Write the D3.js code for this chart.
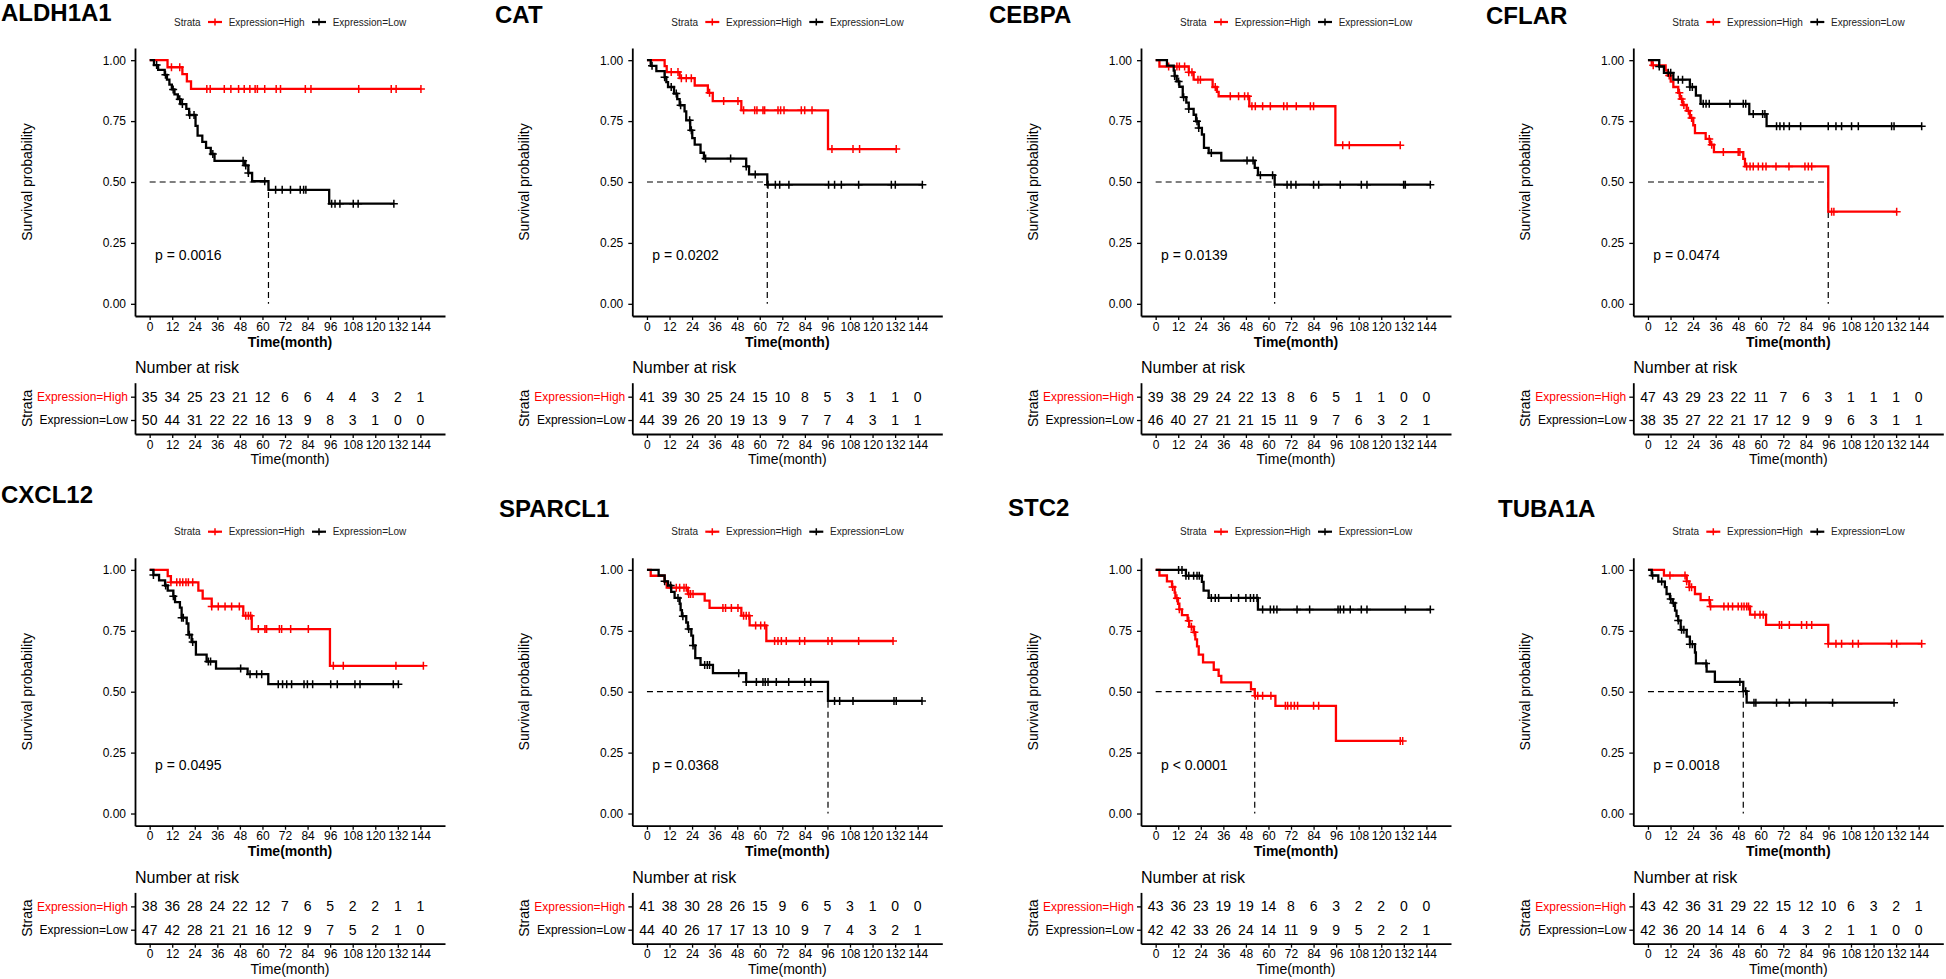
<!DOCTYPE html>
<html><head><meta charset="utf-8">
<script src="https://cdn.jsdelivr.net/npm/d3@7"></script>
<style>
body{margin:0;background:#fff;}
svg{display:block;font-family:Arial,"Liberation Sans",Helvetica,sans-serif;}
</style></head><body>
<svg id="chart" width="1946" height="979"></svg>
<script>
// ---------------- DATA ----------------
const genes = ["ALDH1A1","CAT","CEBPA","CFLAR","CXCL12","SPARCL1","STC2","TUBA1A"];
const strata = ["Expression=High","Expression=Low"];
const riskTimes = [0,12,24,36,48,60,72,84,96,108,120,132,144];
const yTickValues = [0,0.25,0.5,0.75,1];
const pValues = ["p = 0.0016","p = 0.0202","p = 0.0139","p = 0.0474","p = 0.0495","p = 0.0368","p < 0.0001","p = 0.0018"];
const medianTimes = [63.2,64,63.3,95.9,null,96.3,52.7,50.7];

// step curves: [time, survival after step]; censor times
const ALDH1A1_high = [[0,1],[9.5,0.971],[17.4,0.943],[19.8,0.913],[22,0.882]];
const ALDH1A1_high_cens = [11.6,16,30.4,32.2,39.7,43.2,47.3,50.3,53.3,56.1,57.3,61.2,67.3,69.6,82.8,85.8,111.2,128.5,131.1,144.3];
const ALDH1A1_low = [[0,1],[2.3,0.98],[4.5,0.96],[8,0.94],[9.2,0.92],[10.5,0.9],[11.8,0.88],[13.2,0.86],[15,0.84],[16.5,0.82],[19.5,0.8],[21,0.775],[24.4,0.73],[25.5,0.69],[28,0.665],[30,0.64],[32.5,0.615],[34.5,0.587],[50.5,0.568],[52.5,0.537],[54.5,0.503],[63.2,0.468],[95.5,0.411]];
const ALDH1A1_low_cens = [3.7,8.4,12.5,16,17.4,21.3,23.6,33.6,49.7,51.1,52.5,61.2,67,70.5,74.9,80.1,81.9,83.1,96.8,98.6,101.2,108.3,110.9,129.9];

const CAT_high = [[0,1],[9.4,0.976],[10.5,0.951],[17.4,0.926],[25.4,0.896],[32.4,0.866],[35,0.832],[50.2,0.794],[96.3,0.635]];
const CAT_high_cens = [12.9,16.5,18.3,20.9,23.6,33.3,40.8,48.4,51.4,57.3,58.5,61.7,62.6,69.7,71.1,72.9,82.1,83.9,87.8,98.4,109.6,113.1,132.6];
const CAT_low = [[0,1],[2,0.977],[5,0.955],[9.4,0.93],[10.3,0.91],[11.2,0.89],[14.4,0.863],[16.1,0.84],[17.4,0.815],[20,0.79],[20.9,0.753],[23,0.712],[24.1,0.68],[25.4,0.653],[28.5,0.62],[30.3,0.596],[52.8,0.564],[54.3,0.531],[64,0.489]];
const CAT_low_cens = [2.7,9.4,12.9,15.6,17.9,22.7,23.6,31.2,44.5,52.8,57.6,64.4,68.3,70.6,75.5,96.6,99.8,103.4,112.6,130,132.1,146.5];

const CEBPA_high = [[0,1],[2,0.974],[17.6,0.95],[20.2,0.92],[30.3,0.89],[32.6,0.87],[33.5,0.852],[49.8,0.811],[95.6,0.651]];
const CEBPA_high_cens = [6.9,11.3,12.6,15.4,17.6,19.3,22.5,23.8,31.7,39.7,44.1,47.3,49.1,51.2,53,56.9,61,68.1,69.9,74.8,82.3,84,99.5,103,130.1];
const CEBPA_low = [[0,1],[6,0.978],[9.6,0.957],[10.1,0.935],[11.2,0.913],[12.6,0.891],[14.4,0.848],[16.3,0.826],[17.6,0.8],[20.2,0.776],[21.5,0.749],[22.9,0.722],[24.6,0.695],[25.7,0.64],[28.2,0.619],[34.9,0.588],[52.7,0.558],[54.4,0.528],[63.3,0.489]];
const CEBPA_low_cens = [10.1,12.2,14.9,17.6,22,22.9,29.6,48.6,51.8,55.7,62.2,69.9,72,74.6,84,86.7,98.2,109.4,112.4,131.9,132.8,146.1];

const CFLAR_high = [[0,1],[2,0.979],[9.4,0.958],[10.5,0.937],[12.1,0.912],[13.5,0.89],[16.1,0.866],[17,0.841],[18.4,0.816],[20.6,0.792],[22.3,0.763],[24.1,0.733],[25,0.701],[30.7,0.677],[33,0.653],[35.1,0.623],[50.7,0.595],[51.6,0.564],[95.9,0.378]];
const CFLAR_high_cens = [2.8,11.3,16.7,17.9,19.1,21.5,23.2,32.6,33.9,40.1,48,48.9,52.5,54.3,56,58.7,61,62.8,68.1,75,83.5,85.3,87.1,97.7,98.9,132.3];
const CFLAR_low = [[0,1],[6,0.974],[8.5,0.948],[13.5,0.92],[22.3,0.89],[25.5,0.855],[28,0.821],[53.9,0.779],[63.1,0.729]];
const CFLAR_low_cens = [6,10.8,12.1,16.1,18.4,22.3,23.6,29.4,30.9,32.6,43.6,50.7,52,56,61,62.2,68.4,70.2,72.3,75.2,81.2,95.9,100,103,108.3,111.9,129.6,130.9,145.6];

const CXCL12_high = [[0,1],[9.6,0.974],[11.3,0.949],[25.9,0.915],[28.2,0.882],[33,0.85],[49.8,0.812],[54.3,0.757],[95.9,0.606]];
const CXCL12_high_cens = [11.3,14.4,16.1,17.6,19.3,20.6,22.9,33,36.5,40.1,43.6,47.7,51.1,52.5,53.7,57.8,61.3,62.2,69,70.2,75,84.4,97.7,103,131,145.6];
const CXCL12_low = [[0,1],[2,0.979],[5,0.957],[8.2,0.936],[9.6,0.915],[12.6,0.892],[13.5,0.868],[16.1,0.845],[17,0.804],[19.7,0.78],[20.6,0.734],[22.3,0.704],[24.6,0.652],[30.3,0.624],[35.3,0.595],[52.1,0.572],[63.1,0.531]];
const CXCL12_low_cens = [2,8.5,12.6,17,17.9,21.1,22.9,31.2,32.4,48.4,53.4,56.9,59.6,68.4,70.7,72.9,75.5,82.1,83.9,86.7,96.3,99.8,109.2,111.9,129.6,132.3];

const SPARCL1_high = [[0,1],[2,0.976],[9.4,0.951],[10.5,0.927],[21.8,0.901],[30.7,0.874],[33.3,0.844],[50.2,0.812],[54.6,0.772],[63.5,0.708]];
const SPARCL1_high_cens = [12.9,15.6,17.4,19.7,20.9,22.2,23.2,24.5,40.4,41.8,44.9,48.4,51.4,52.8,54.3,57.8,60.5,62.6,67.9,69.7,71.5,74.1,81.2,83.9,96.3,98.4,112.6,130.9];
const SPARCL1_low = [[0,1],[6.2,0.977],[9.4,0.953],[11.2,0.936],[12.9,0.91],[14.7,0.885],[17.4,0.861],[17.9,0.835],[18.6,0.81],[20.9,0.784],[21.8,0.757],[23.6,0.73],[24.5,0.69],[25.7,0.638],[28.5,0.61],[35.1,0.576],[52.8,0.54],[96.3,0.462]];
const SPARCL1_low_cens = [9.4,12.6,16.5,19.1,22.2,24.5,30.7,32.1,33.3,48.8,52.8,58.2,61.7,62.9,64.4,68.8,75.4,83.9,87.1,99.8,102.5,109.6,131.4,132.6,146.3];

const STC2_high = [[0,1],[2,0.977],[6,0.953],[8.7,0.93],[10.1,0.907],[10.5,0.884],[11.9,0.861],[12.6,0.838],[14,0.814],[17,0.791],[17.8,0.767],[20.2,0.744],[21.1,0.715],[22,0.686],[22.9,0.652],[25.2,0.62],[30.9,0.59],[33.5,0.565],[34.9,0.538],[50.7,0.51],[52.7,0.483],[63.7,0.442],[95.9,0.298]];
const STC2_high_cens = [9,11.3,12.6,17.6,19,20.6,53,54.3,56.9,61.3,69,70.2,72,73.8,75.5,84,86.7,130.1,131.4];
const STC2_low = [[0,1],[16.1,0.976],[24.6,0.951],[25.5,0.915],[28.2,0.885],[54.4,0.837]];
const STC2_low_cens = [12.2,14,16.1,17.6,20.2,22,23.2,29.6,31.7,33.5,40.2,44.1,48,50.4,52.1,53.9,56.9,61,62.8,64.5,75.2,81.9,97,98.2,100,103.5,109.4,112.4,132.8,146.1];

const TUBA1A_high = [[0,1],[8.5,0.977],[20.6,0.953],[22,0.929],[25,0.901],[28,0.876],[33,0.85],[54.3,0.816],[62.8,0.774],[95.9,0.697]];
const TUBA1A_high_cens = [11.7,19.7,20.6,22,23.2,32.6,33.3,40.4,42.7,45,48,49.8,51.1,52.5,53.5,56.9,59.6,61.3,69.9,71.1,75.2,81.7,84.4,87.1,95.9,100,103,108.9,111.9,129.6,132.3,145.6];
const TUBA1A_low = [[0,1],[2,0.977],[5.5,0.952],[9,0.929],[9.9,0.901],[11.7,0.88],[13.1,0.864],[14.4,0.833],[15.2,0.81],[16.1,0.792],[17.4,0.754],[20.6,0.726],[22.3,0.695],[25,0.661],[25.5,0.616],[31.2,0.582],[35.6,0.54],[50.7,0.502],[52.5,0.455]];
const TUBA1A_low_cens = [2.5,7.3,12.1,13.5,16.1,17.9,19.1,22.3,23.6,30.9,48.9,52,56.4,57.4,68.4,75.2,84,98.2,130.9];

// numbers at risk at riskTimes
const ALDH1A1_risk_high = [35,34,25,23,21,12,6,6,4,4,3,2,1];
const ALDH1A1_risk_low  = [50,44,31,22,22,16,13,9,8,3,1,0,0];
const CAT_risk_high = [41,39,30,25,24,15,10,8,5,3,1,1,0];
const CAT_risk_low  = [44,39,26,20,19,13,9,7,7,4,3,1,1];
const CEBPA_risk_high = [39,38,29,24,22,13,8,6,5,1,1,0,0];
const CEBPA_risk_low  = [46,40,27,21,21,15,11,9,7,6,3,2,1];
const CFLAR_risk_high = [47,43,29,23,22,11,7,6,3,1,1,1,0];
const CFLAR_risk_low  = [38,35,27,22,21,17,12,9,9,6,3,1,1];
const CXCL12_risk_high = [38,36,28,24,22,12,7,6,5,2,2,1,1];
const CXCL12_risk_low  = [47,42,28,21,21,16,12,9,7,5,2,1,0];
const SPARCL1_risk_high = [41,38,30,28,26,15,9,6,5,3,1,0,0];
const SPARCL1_risk_low  = [44,40,26,17,17,13,10,9,7,4,3,2,1];
const STC2_risk_high = [43,36,23,19,19,14,8,6,3,2,2,0,0];
const STC2_risk_low  = [42,42,33,26,24,14,11,9,9,5,2,2,1];
const TUBA1A_risk_high = [43,42,36,31,29,22,15,12,10,6,3,2,1];
const TUBA1A_risk_low  = [42,36,20,14,14,6,4,3,2,1,1,0,0];

const curveData = [
  [ALDH1A1_high,ALDH1A1_high_cens,ALDH1A1_low,ALDH1A1_low_cens,ALDH1A1_risk_high,ALDH1A1_risk_low],
  [CAT_high,CAT_high_cens,CAT_low,CAT_low_cens,CAT_risk_high,CAT_risk_low],
  [CEBPA_high,CEBPA_high_cens,CEBPA_low,CEBPA_low_cens,CEBPA_risk_high,CEBPA_risk_low],
  [CFLAR_high,CFLAR_high_cens,CFLAR_low,CFLAR_low_cens,CFLAR_risk_high,CFLAR_risk_low],
  [CXCL12_high,CXCL12_high_cens,CXCL12_low,CXCL12_low_cens,CXCL12_risk_high,CXCL12_risk_low],
  [SPARCL1_high,SPARCL1_high_cens,SPARCL1_low,SPARCL1_low_cens,SPARCL1_risk_high,SPARCL1_risk_low],
  [STC2_high,STC2_high_cens,STC2_low,STC2_low_cens,STC2_risk_high,STC2_risk_low],
  [TUBA1A_high,TUBA1A_high_cens,TUBA1A_low,TUBA1A_low_cens,TUBA1A_risk_high,TUBA1A_risk_low]
];

// ---------------- LAYOUT ----------------
const colX = [135, 632.3, 1141, 1633.3];
const rowTop = [48, 557.7];
const titleX = [1, 495, 989, 1486, 1, 499, 1008, 1498];
const titleY = [20.7, 22.5, 23.3, 24.3, 502.5, 516.5, 516, 517.3];
const W = 310, H = 268;
const colors = ["#FF0000", "#000000"];

const x = d3.scaleLinear().domain([-7.8, 157.1]).range([0, W]);
const y = d3.scaleLinear().domain([-0.05, 1.05]).range([H, 0]);
const svg = d3.select("#chart");

function survAt(steps, t){
  let s = steps[0][1];
  for (const st of steps){ if (st[0] <= t) s = st[1]; }
  return s;
}
function styleAxis(g, fs){
  g.select(".domain").attr("stroke","#000").attr("stroke-width",1.8);
  g.selectAll(".tick line").attr("stroke","#000").attr("stroke-width",1.3);
  g.selectAll(".tick text").attr("fill","#000").attr("font-size",fs).attr("font-family",null);
  g.attr("font-family",null);
}
const plus = (px,py,r) => `M${px-r},${py}h${2*r}M${px},${py-r}v${2*r}`;

genes.forEach((gene, i) => {
  const col = i % 4, row = Math.floor(i / 4);
  const ox = colX[col], oy = rowTop[row];
  const [hS, hC, lS, lC, rH, rL] = curveData[i];

  // title
  svg.append("text").attr("x", titleX[i]).attr("y", titleY[i])
    .attr("font-size", 24).attr("font-weight", "bold").text(gene);

  // legend
  const lg = svg.append("g").attr("transform", `translate(${ox},${oy - 26})`);
  lg.append("text").attr("x", 39).attr("y", 0).attr("dominant-baseline","central")
    .attr("font-size", 10).attr("fill","#222").text("Strata");
  const keyX = [73, 177], txtX = [93.7, 197.7];
  strata.forEach((s, k) => {
    lg.append("line").attr("x1", keyX[k]).attr("x2", keyX[k] + 14).attr("y1", 0).attr("y2", 0)
      .attr("stroke", colors[k]).attr("stroke-width", 2.2);
    lg.append("path").attr("d", plus(keyX[k] + 7, 0, 3.5)).attr("stroke", colors[k]).attr("stroke-width", 1.5);
    lg.append("text").attr("x", txtX[k]).attr("y", 0).attr("dominant-baseline","central")
      .attr("font-size", 10).attr("fill","#222").text(s);
  });

  const gp = svg.append("g").attr("transform", `translate(${ox},${oy})`);

  // axes
  gp.append("g").attr("transform", `translate(0,${H})`)
    .call(d3.axisBottom(x).tickValues(riskTimes).tickSize(4).tickSizeOuter(0).tickPadding(2))
    .call(g => styleAxis(g, 12));
  gp.append("g")
    .call(d3.axisLeft(y).tickValues(yTickValues).tickFormat(d3.format(".2f")).tickSize(4).tickSizeOuter(0).tickPadding(5))
    .call(g => styleAxis(g, 12));

  gp.append("text").attr("x", W / 2).attr("y", 293.7).attr("text-anchor","middle").attr("dominant-baseline","central")
    .attr("font-size", 14).attr("font-weight","bold").text("Time(month)");
  gp.append("text").attr("transform", `translate(-108,${H / 2}) rotate(-90)`).attr("text-anchor","middle")
    .attr("dominant-baseline","central").attr("font-size", 14).text("Survival probability");

  // median lines
  const med = medianTimes[i];
  if (med !== null) {
    gp.append("line").attr("x1", x(0)).attr("x2", x(med)).attr("y1", y(0.5)).attr("y2", y(0.5))
      .attr("stroke","#000").attr("stroke-width",1.2).attr("stroke-dasharray","6,4");
    gp.append("line").attr("x1", x(med)).attr("x2", x(med)).attr("y1", y(0.5)).attr("y2", y(0))
      .attr("stroke","#000").attr("stroke-width",1.2).attr("stroke-dasharray","6,4");
  }

  // curves
  const line = d3.line().x(d => x(d[0])).y(d => y(d[1])).curve(d3.curveStepAfter);
  [[hS, hC], [lS, lC]].forEach(([steps, cens], k) => {
    const end = Math.max(d3.max(cens), steps[steps.length - 1][0]);
    const pts = steps.concat([[end, steps[steps.length - 1][1]]]);
    gp.append("path").attr("d", line(pts)).attr("fill","none")
      .attr("stroke", colors[k]).attr("stroke-width", 2.3);
    gp.append("path").attr("d", cens.map(t => plus(x(t), y(survAt(steps, t)), 4)).join(""))
      .attr("stroke", colors[k]).attr("stroke-width", 1.5).attr("fill","none");
  });

  // p-value
  gp.append("text").attr("x", 20).attr("y", y(0.2)).attr("dominant-baseline","central")
    .attr("font-size", 14).text(pValues[i]);

  // risk table
  gp.append("text").attr("x", 0).attr("y", 319.7).attr("dominant-baseline","central")
    .attr("font-size", 16).text("Number at risk");
  const tg = gp.append("g").attr("transform", "translate(0,334.7)");
  const TH = 51.3;
  const yr = d3.scalePoint().domain(strata).range([0, TH]).padding(0.6);
  tg.append("g").attr("transform", `translate(0,${TH})`)
    .call(d3.axisBottom(x).tickValues(riskTimes).tickSize(4).tickSizeOuter(0).tickPadding(2))
    .call(g => styleAxis(g, 12));
  tg.append("g").call(d3.axisLeft(yr).tickSize(4).tickSizeOuter(0).tickPadding(3))
    .call(g => styleAxis(g, 12))
    .call(g => g.selectAll(".tick text").attr("fill", (d, k) => colors[k]));
  [rH, rL].forEach((vals, k) => {
    tg.append("g").selectAll("text").data(vals).join("text")
      .attr("x", (d, j) => x(riskTimes[j])).attr("y", yr(strata[k]))
      .attr("text-anchor","middle").attr("dominant-baseline","central")
      .attr("font-size", 14).attr("fill","#000").text(d => d);
  });
  tg.append("text").attr("x", W / 2).attr("y", 76.3).attr("text-anchor","middle").attr("dominant-baseline","central")
    .attr("font-size", 14).text("Time(month)");
  tg.append("text").attr("transform", `translate(-108,${TH / 2}) rotate(-90)`).attr("text-anchor","middle")
    .attr("dominant-baseline","central").attr("font-size", 14).text("Strata");
});
</script></body></html>
